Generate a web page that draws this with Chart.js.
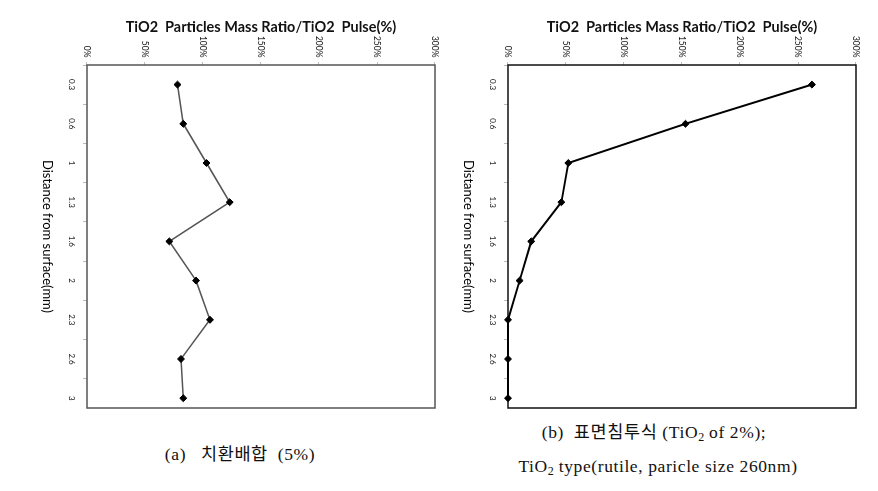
<!DOCTYPE html>
<html>
<head>
<meta charset="utf-8">
<script src="https://cdn.jsdelivr.net/npm/chart.js@4"></script>
<style>
  html, body { margin: 0; padding: 0; background: #fff; }
  body { width: 878px; height: 491px; position: relative; overflow: hidden; }
  /* each chart is drawn upright and turned a quarter turn clockwise */
  .panel {
    position: absolute; top: 10px;
    width: 405px; height: 415px;
    transform-origin: 0 0;
    transform: translate(415px, 0) rotate(90deg);
  }
  .cap {
    position: absolute; text-align: center; white-space: nowrap;
    font-family: "Liberation Serif", "Noto Sans CJK KR", serif;
    font-size: 17.5px; line-height: 20px; color: #111; letter-spacing: 0.6px;
  }
  .cap sub { font-size: 12px; vertical-align: -3px; line-height: 0; letter-spacing: 0; }
</style>
</head>
<body>
<div class="panel" style="left:30px"><canvas id="chartA" width="405" height="415"></canvas></div>
<div class="panel" style="left:451px"><canvas id="chartB" width="405" height="415"></canvas></div>

<div class="cap" style="left:90px; width:300px; top:444px">(a)&nbsp;&nbsp; 치환배합&nbsp; (5%)</div>
<div class="cap" style="left:504px; width:300px; top:422px">(b)&nbsp; 표면침투식 (TiO<sub>2</sub> of 2%);</div>
<div class="cap" style="left:508px; width:300px; top:456px">TiO<sub>2</sub> type(rutile, paricle size 260nm)</div>

<script>
// ---------------- Data ----------------
const distances = ["0.3", "0.6", "1", "1.3", "1.6", "2", "2.3", "2.6", "3"];
const ratioA = [78, 83, 103, 123, 71, 94, 106, 81, 83];   // 치환배합 (5%)
const ratioB = [262, 153, 52, 46, 20, 10, 0, 0, 0];       // 표면침투식 (2%)
const ratioMin = 0;
const ratioMax = 300;
const ratioStep = 50;

const valueTitle = "TiO2  Particles Mass Ratio/TiO2  Pulse(%)";
const distTitle = "Distance from surface(mm)";

// ---------------- Helpers ----------------
const frame = {
  id: "frame",
  beforeDatasetsDraw(chart, args, opts) {
    const a = chart.chartArea;
    const ctx = chart.ctx;
    ctx.save();
    ctx.strokeStyle = opts.color;
    ctx.lineWidth = opts.width;
    ctx.strokeRect(a.left, a.top, a.right - a.left, a.bottom - a.top);
    ctx.restore();
  }
};

function makeChart(id, values, lineColor, lineWidth, frameColor) {
  // category slots are indexes 0..8; the slot edges sit on the half steps
  const pts = distances.map((d, i) => ({ x: i, y: values[i] }));
  return new Chart(document.getElementById(id), {
    type: "line",
    data: {
      datasets: [{
        data: pts,
        borderColor: lineColor,
        borderWidth: lineWidth,
        pointStyle: "rectRot",
        pointRadius: 3.5,
        pointBackgroundColor: "#000",
        pointBorderColor: "#000",
        pointBorderWidth: 1,
        tension: 0,
        clip: false
      }]
    },
    options: {
      responsive: false,
      animation: false,
      devicePixelRatio: 1,
      layout: { padding: { left: 0, right: 7, top: 10, bottom: 0 } },
      plugins: {
        legend: { display: false },
        tooltip: { enabled: false },
        frame: { color: frameColor, width: 1.5 }
      },
      scales: {
        x: {
          type: "linear",
          min: -0.5, max: 8.25,
          border: { display: false },
          grid: {
            drawOnChartArea: false, tickLength: 4,
            color: c => Number.isInteger(c.tick.value) ? "rgba(0,0,0,0)" : "#bbb"
          },
          ticks: {
            stepSize: 0.5, includeBounds: false,
            autoSkip: false, maxRotation: 0, minRotation: 0, padding: 7,
            color: "#111", font: { family: "Lato", size: 8 },
            callback: v => Number.isInteger(v) ? distances[v] : ""
          },
          title: {
            display: true, text: distTitle, color: "#000",
            font: { family: "Lato", size: 13 },
            padding: { top: 0, bottom: 9 }
          },
          afterFit: s => { s.height = 57; }
        },
        y: {
          min: ratioMin, max: ratioMax,
          border: { display: false },
          grid: { drawOnChartArea: false, tickLength: 3, color: "#bbb" },
          ticks: {
            stepSize: ratioStep, padding: 4.5,
            color: "#111", font: { family: "Lato", size: 8.5 },
            callback: v => v + "%"
          },
          title: {
            display: true, text: valueTitle, color: "#111",
            font: { family: "Lato", size: 14.5, weight: "bold" },
            padding: { top: 9, bottom: 0 }
          },
          afterFit: s => { s.width = 55; }
        }
      }
    },
    plugins: [frame]
  });
}

// ---------------- Init ----------------
makeChart("chartA", ratioA, "#555", 1.5, "#555");
makeChart("chartB", ratioB, "#000", 2, "#111");
</script>
</body>
</html>
